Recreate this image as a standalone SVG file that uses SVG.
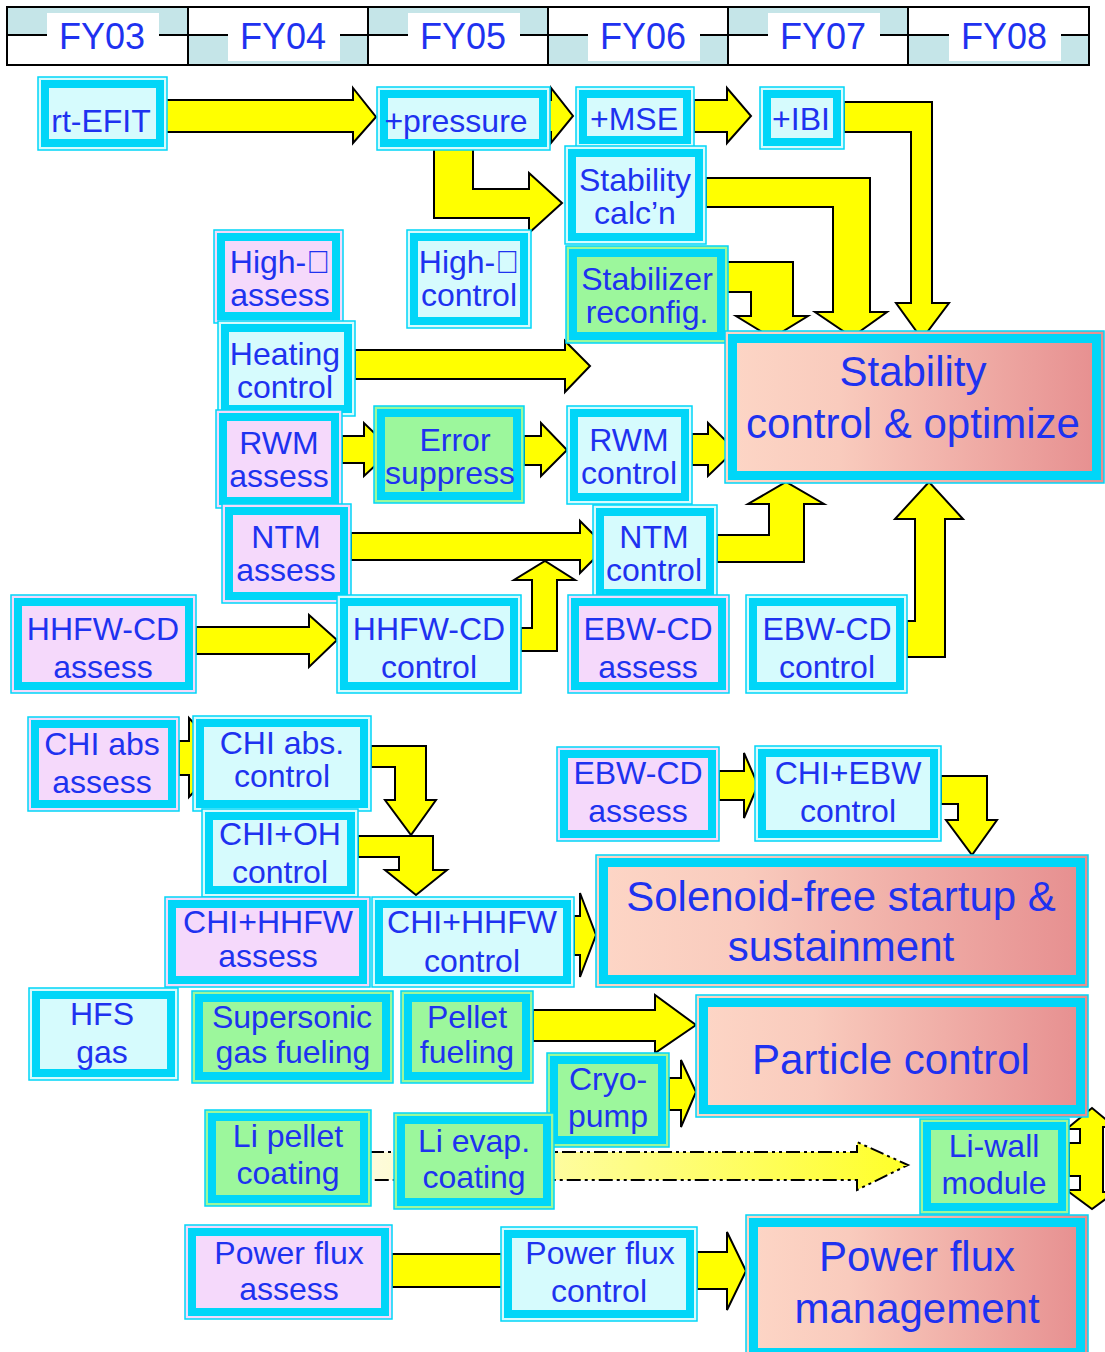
<svg xmlns="http://www.w3.org/2000/svg" width="1105" height="1352" viewBox="0 0 1105 1352">
<defs>
<style>
.t{font-family:"Liberation Sans",Arial,Helvetica,sans-serif;font-size:32px;fill:#1e32f0;text-anchor:middle}
.hd{font-size:36px}
.gt{font-size:42px}
.oc{fill:#d6fbfd;stroke:#00d6f8;stroke-width:1.5}
.op{fill:#f5d9fb;stroke:#00d6f8;stroke-width:1.5}
.og{fill:#9cf79c;stroke:#00d6f8;stroke-width:1.5}
.ob{fill:none;stroke:#00d6f8;stroke-width:8}
.gb{fill:none;stroke:#00d6f8;stroke-width:9}
.go{fill:url(#goalg);stroke:#00d6f8;stroke-width:1.5}
.ar{fill:#ffff00;stroke:#000;stroke-width:2;stroke-linejoin:miter}
.teal{fill:#c5e5e8}
.ln{stroke:#000;stroke-width:2;fill:none}
.lab{fill:#fff}
</style>
<linearGradient id="goalg" x1="0" y1="0" x2="1" y2="0">
<stop offset="0" stop-color="#fdd6c6"/>
<stop offset="0.3" stop-color="#f9cbbd"/>
<stop offset="1" stop-color="#e68e8f"/>
</linearGradient>
<linearGradient id="dashg" gradientUnits="userSpaceOnUse" x1="370" y1="0" x2="905" y2="0">
<stop offset="0" stop-color="#fdfbdc"/>
<stop offset="1" stop-color="#ffff2a"/>
</linearGradient>
</defs>
<rect x="0" y="0" width="1105" height="1352" fill="#fff"/>

<g id="header">
<rect class="teal" x="7" y="7" width="181" height="28"/>
<rect class="teal" x="188" y="35" width="180" height="30"/>
<rect class="teal" x="368" y="7" width="180" height="28"/>
<rect class="teal" x="548" y="35" width="180" height="30"/>
<rect class="teal" x="728" y="7" width="180" height="28"/>
<rect class="teal" x="908" y="35" width="181" height="30"/>
<line class="ln" x1="7" y1="35" x2="1089" y2="35"/>
<rect class="ln" x="7" y="7" width="1082" height="58"/>
<line class="ln" x1="188" y1="7" x2="188" y2="65"/>
<line class="ln" x1="368" y1="7" x2="368" y2="65"/>
<line class="ln" x1="548" y1="7" x2="548" y2="65"/>
<line class="ln" x1="728" y1="7" x2="728" y2="65"/>
<line class="ln" x1="908" y1="7" x2="908" y2="65"/>
<rect class="lab" x="47" y="13" width="112" height="48"/>
<rect class="lab" x="228" y="13" width="112" height="48"/>
<rect class="lab" x="408" y="13" width="112" height="48"/>
<rect class="lab" x="588" y="13" width="112" height="48"/>
<rect class="lab" x="768" y="13" width="112" height="48"/>
<rect class="lab" x="949" y="13" width="112" height="48"/>
<text class="t hd" x="102" y="49">FY03</text>
<text class="t hd" x="283" y="49">FY04</text>
<text class="t hd" x="463" y="49">FY05</text>
<text class="t hd" x="643" y="49">FY06</text>
<text class="t hd" x="823" y="49">FY07</text>
<text class="t hd" x="1004" y="49">FY08</text>
</g>

<g id="connectors">
<polygon class="ar" points="166,100 353,100 353,88 376,117 353,143 353,132 166,132"/>
<polygon class="ar" points="548,100 551,100 551,88 573,116 551,143 551,132 548,132"/>
<polygon class="ar" points="694,100 727,100 727,88 751,116 727,143 727,132 694,132"/>
<polygon class="ar" points="844,102 932,102 932,303 949,303 922,339 896,303 911,303 911,132 844,132"/>
<polygon class="ar" points="434,149 473,149 473,189 529,189 529,173 562,203 529,233 529,218 434,218"/>
<polygon class="ar" points="706,178 870,178 870,312 887,312 852,337 815,312 833,312 833,207 706,207"/>
<polygon class="ar" points="727,262 793,262 793,316 808,316 772,338 736,316 751,316 751,292 727,292"/>
<polygon class="ar" points="355,350 565,350 565,341 590,366 565,392 565,379 355,379"/>
<polygon class="ar" points="342,436 364,436 364,423 392,450 364,476 364,463 342,463"/>
<polygon class="ar" points="524,436 541,436 541,423 567,450 541,476 541,465 524,465"/>
<polygon class="ar" points="692,434 708,434 708,423 735,450 708,476 708,465 692,465"/>
<polygon class="ar" points="351,533 580,533 580,521 606,547 580,573 580,560 351,560"/>
<polygon class="ar" points="717,535 769,535 769,504 748,504 786,482 824,504 804,504 804,562 717,562"/>
<polygon class="ar" points="907,621 915,621 915,519 895,519 929,482 963,519 945,519 945,657 907,657"/>
<polygon class="ar" points="196,627 309,627 309,615 337,640 309,667 309,654 196,654"/>
<polygon class="ar" points="521,628 532,628 532,580 514,580 545,561 575,580 557,580 557,651 521,651"/>
<polygon class="ar" points="179,741 189,741 189,718 226,758 189,797 189,775 179,775"/>
<polygon class="ar" points="371,746 426,746 426,800 436,800 411,835 385,800 395,800 395,767 371,767"/>
<polygon class="ar" points="358,836 433,836 433,870 447,870 416,895 385,870 399,870 399,857 358,857"/>
<polygon class="ar" points="574,916 580,916 580,893 596,935 580,977 580,955 574,955"/>
<polygon class="ar" points="719,771 744,771 744,753 758,785 744,818 744,800 719,800"/>
<polygon class="ar" points="941,776 987,776 987,820 997,820 972,855 946,820 958,820 958,804 941,804"/>
<polygon class="ar" points="533,1010 655,1010 655,995 696,1025 655,1053 655,1041 533,1041"/>
<polygon class="ar" points="669,1078 681,1078 681,1060 696,1092 681,1127 681,1110 669,1110"/>
<polygon points="370,1152 857,1152 857,1142 908,1165 857,1190 857,1180 370,1180" fill="url(#dashg)" stroke="#000" stroke-width="2" stroke-dasharray="14 4 3 4 3 4"/>
<polygon class="ar" points="1092,1108 1069,1127 1069,1129 1080,1129 1080,1143 1069,1143 1069,1176 1080,1176 1080,1190 1069,1190 1069,1192 1092,1209 1115,1192 1103,1192 1103,1127 1115,1127"/>
<polygon class="ar" points="392,1254 520,1254 520,1240 545,1270 520,1300 520,1287 392,1287"/>
<polygon class="ar" points="697,1252 727,1252 727,1232 746,1271 727,1310 727,1289 697,1289"/>
</g>

<g id="n-rt-efit"><rect class="oc" x="38" y="77" width="129" height="73"/><rect class="ob" x="45" y="84" width="115" height="59"/><text class="t" x="101" y="132">rt-EFIT</text></g>
<g id="n-pressure"><rect class="oc" x="377" y="87" width="173" height="63"/><rect class="ob" x="384" y="94" width="159" height="49"/><text class="t" x="456" y="132">+pressure</text></g>
<g id="n-mse"><rect class="oc" x="576" y="87" width="118" height="60"/><rect class="ob" x="583" y="94" width="104" height="46"/><text class="t" x="634" y="130">+MSE</text></g>
<g id="n-ibi"><rect class="oc" x="760" y="87" width="84" height="62"/><rect class="ob" x="767" y="94" width="70" height="48"/><text class="t" x="801" y="130">+IBI</text></g>
<g id="n-stab-calc"><rect class="oc" x="565" y="146" width="141" height="98"/><rect class="ob" x="572" y="153" width="127" height="84"/><text class="t" x="635" y="191">Stability</text><text class="t" x="635" y="224">calc’n</text></g>
<g id="n-highb-assess"><rect class="op" x="214" y="230" width="129" height="93"/><rect class="ob" x="221" y="237" width="115" height="79"/><text class="t" x="280" y="273">High-&#xF062;</text><text class="t" x="280" y="306">assess</text></g>
<g id="n-highb-control"><rect class="oc" x="407" y="230" width="124" height="98"/><rect class="ob" x="414" y="237" width="110" height="84"/><text class="t" x="469" y="273">High-&#xF062;</text><text class="t" x="469" y="306">control</text></g>
<g id="n-stabilizer"><rect class="og" x="566" y="246" width="162" height="97"/><rect class="ob" x="573" y="253" width="148" height="83"/><text class="t" x="647" y="290">Stabilizer</text><text class="t" x="647" y="323">reconfig.</text></g>
<g id="n-heating"><rect class="oc" x="218" y="321" width="137" height="95"/><rect class="ob" x="225" y="328" width="123" height="81"/><text class="t" x="285" y="365">Heating</text><text class="t" x="285" y="398">control</text></g>
<g id="n-rwm-assess"><rect class="op" x="216" y="410" width="126" height="98"/><rect class="ob" x="223" y="417" width="112" height="84"/><text class="t" x="279" y="454">RWM</text><text class="t" x="279" y="487">assess</text></g>
<g id="n-error"><rect class="og" x="374" y="406" width="150" height="97"/><rect class="ob" x="381" y="413" width="136" height="83"/><text class="t" x="455" y="451">Error</text><text class="t" x="450" y="484">suppress</text></g>
<g id="n-rwm-control"><rect class="oc" x="567" y="406" width="125" height="98"/><rect class="ob" x="574" y="413" width="111" height="84"/><text class="t" x="629" y="451">RWM</text><text class="t" x="629" y="484">control</text></g>
<g id="n-ntm-assess"><rect class="op" x="222" y="504" width="129" height="99"/><rect class="ob" x="229" y="511" width="115" height="85"/><text class="t" x="286" y="548">NTM</text><text class="t" x="286" y="581">assess</text></g>
<g id="n-ntm-control"><rect class="oc" x="593" y="505" width="124" height="95"/><rect class="ob" x="600" y="512" width="110" height="81"/><text class="t" x="654" y="548">NTM</text><text class="t" x="654" y="581">control</text></g>
<g id="n-hhfw-assess"><rect class="op" x="11" y="595" width="185" height="98"/><rect class="ob" x="18" y="602" width="171" height="84"/><text class="t" x="103" y="640">HHFW-CD</text><text class="t" x="103" y="678">assess</text></g>
<g id="n-hhfw-control"><rect class="oc" x="337" y="595" width="184" height="98"/><rect class="ob" x="344" y="602" width="170" height="84"/><text class="t" x="429" y="640">HHFW-CD</text><text class="t" x="429" y="678">control</text></g>
<g id="n-ebw-assess"><rect class="op" x="568" y="595" width="161" height="98"/><rect class="ob" x="575" y="602" width="147" height="84"/><text class="t" x="648" y="640">EBW-CD</text><text class="t" x="648" y="678">assess</text></g>
<g id="n-ebw-control"><rect class="oc" x="746" y="595" width="161" height="98"/><rect class="ob" x="753" y="602" width="147" height="84"/><text class="t" x="827" y="640">EBW-CD</text><text class="t" x="827" y="678">control</text></g>
<g id="g-stability"><rect class="go" x="725" y="331" width="379" height="152"/><rect class="gb" x="732.5" y="338.5" width="364" height="137"/><text class="t gt" x="913" y="386">Stability</text><text class="t gt" x="913" y="438">control &amp; optimize</text></g>

<g id="n-chi-abs-assess"><rect class="op" x="28" y="717" width="151" height="94"/><rect class="ob" x="35" y="724" width="137" height="80"/><text class="t" x="102" y="755">CHI abs</text><text class="t" x="102" y="793">assess</text></g>
<g id="n-chi-abs-control"><rect class="oc" x="193" y="716" width="178" height="95"/><rect class="ob" x="200" y="723" width="164" height="81"/><text class="t" x="282" y="754">CHI abs.</text><text class="t" x="282" y="787">control</text></g>
<g id="n-chi-oh"><rect class="oc" x="202" y="809" width="156" height="88"/><rect class="ob" x="209" y="816" width="142" height="74"/><text class="t" x="280" y="845">CHI+OH</text><text class="t" x="280" y="883">control</text></g>
<g id="n-chi-hhfw-assess"><rect class="op" x="165" y="897" width="205" height="90"/><rect class="ob" x="172" y="904" width="191" height="76"/><text class="t" x="268" y="933">CHI+HHFW</text><text class="t" x="268" y="967">assess</text></g>
<g id="n-chi-hhfw-control"><rect class="oc" x="372" y="897" width="202" height="90"/><rect class="ob" x="379" y="904" width="188" height="76"/><text class="t" x="472" y="933">CHI+HHFW</text><text class="t" x="472" y="972">control</text></g>
<g id="n-ebw-assess-2"><rect class="op" x="557" y="747" width="162" height="94"/><rect class="ob" x="564" y="754" width="148" height="80"/><text class="t" x="638" y="784">EBW-CD</text><text class="t" x="638" y="822">assess</text></g>
<g id="n-chi-ebw"><rect class="oc" x="755" y="746" width="186" height="95"/><rect class="ob" x="762" y="753" width="172" height="81"/><text class="t" x="848" y="784">CHI+EBW</text><text class="t" x="848" y="822">control</text></g>
<g id="g-solenoid"><rect class="go" x="596" y="855" width="492" height="132"/><rect class="gb" x="603.5" y="862.5" width="477" height="117"/><text class="t gt" x="841" y="911">Solenoid-free startup &amp;</text><text class="t gt" x="841" y="961">sustainment</text></g>

<g id="n-hfs"><rect class="oc" x="29" y="988" width="149" height="92"/><rect class="ob" x="36" y="995" width="135" height="78"/><text class="t" x="102" y="1025">HFS</text><text class="t" x="102" y="1063">gas</text></g>
<g id="n-supersonic"><rect class="og" x="192" y="991" width="201" height="92"/><rect class="ob" x="199" y="998" width="187" height="78"/><text class="t" x="292" y="1028">Supersonic</text><text class="t" x="293" y="1063">gas fueling</text></g>
<g id="n-pellet"><rect class="og" x="401" y="991" width="132" height="92"/><rect class="ob" x="408" y="998" width="118" height="78"/><text class="t" x="467" y="1028">Pellet</text><text class="t" x="467" y="1063">fueling</text></g>
<g id="n-cryo"><rect class="og" x="547" y="1053" width="122" height="94"/><rect class="ob" x="554" y="1060" width="108" height="80"/><text class="t" x="608" y="1090">Cryo-</text><text class="t" x="608" y="1127">pump</text></g>
<g id="g-particle"><rect class="go" x="696" y="995" width="392" height="122"/><rect class="gb" x="703.5" y="1002.5" width="377" height="107"/><text class="t gt" x="891" y="1074">Particle control</text></g>
<g id="n-li-pellet"><rect class="og" x="205" y="1110" width="166" height="96"/><rect class="ob" x="212" y="1117" width="152" height="82"/><text class="t" x="288" y="1147">Li pellet</text><text class="t" x="288" y="1184">coating</text></g>
<g id="n-li-evap"><rect class="og" x="394" y="1113" width="160" height="96"/><rect class="ob" x="401" y="1120" width="146" height="82"/><text class="t" x="474" y="1152">Li evap.</text><text class="t" x="474" y="1188">coating</text></g>
<g id="n-li-wall"><rect class="og" x="920" y="1119" width="149" height="95"/><rect class="ob" x="927" y="1126" width="135" height="81"/><text class="t" x="994" y="1157">Li-wall</text><text class="t" x="994" y="1194">module</text></g>

<g id="n-pf-assess"><rect class="op" x="185" y="1225" width="207" height="94"/><rect class="ob" x="192" y="1232" width="193" height="80"/><text class="t" x="289" y="1264">Power flux</text><text class="t" x="289" y="1300">assess</text></g>
<g id="n-pf-control"><rect class="oc" x="501" y="1227" width="196" height="94"/><rect class="ob" x="508" y="1234" width="182" height="80"/><text class="t" x="600" y="1264">Power flux</text><text class="t" x="599" y="1302">control</text></g>
<g id="g-powerflux"><rect class="go" x="746" y="1215" width="342" height="145"/><rect class="gb" x="753.5" y="1222.5" width="327" height="130"/><text class="t gt" x="917" y="1271">Power flux</text><text class="t gt" x="917" y="1323">management</text></g>
</svg>
